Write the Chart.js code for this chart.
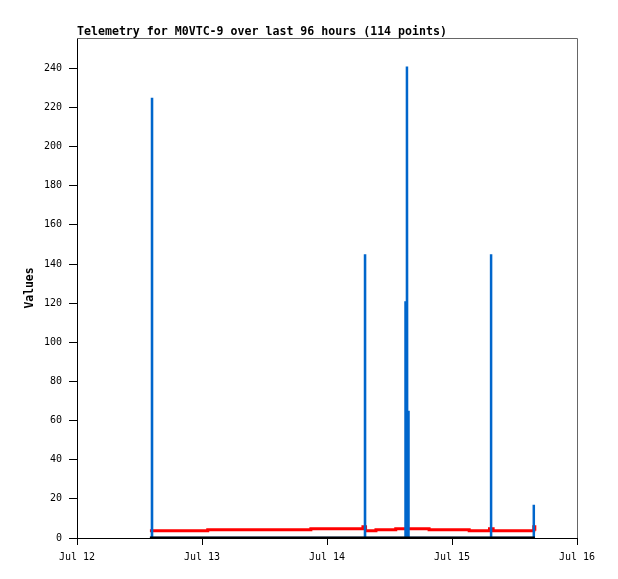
<!DOCTYPE html>
<html><head><meta charset="utf-8">
<style>html,body{margin:0;padding:0;background:#fff}#wrap{width:618px;height:579px}</style>
<script src="https://cdn.jsdelivr.net/npm/chart.js@4.4.0/dist/chart.umd.min.js"></script>
</head><body><div id="wrap"><canvas id="c" width="618" height="579"></canvas></div>
<script>
const titleText = 'Telemetry for M0VTC-9 over last 96 hours (114 points)';
const yAxisTitle = 'Values';
// x is hours since Jul 12 00:00
const xTickHours = [0, 24, 48, 72, 96];
const xTickLabels = ['Jul 12', 'Jul 13', 'Jul 14', 'Jul 15', 'Jul 16'];
const yTickValues = [0, 20, 40, 60, 80, 100, 120, 140, 160, 180, 200, 220, 240];
const yMax = 255.5;

const blueHours  = [14.0, 14.39, 14.4, 14.41, 55.29, 55.3, 55.31, 63.0, 63.05, 63.1, 63.3, 63.35, 63.4, 63.55, 63.6, 63.65, 79.49, 79.5, 79.51, 87.69, 87.7, 87.71, 87.9];
const blueValues = [0,    0,     225,  0,     0,     145,  0,     0,    121,   0,    0,    241,   0,    0,     65,   0,     0,     145,  0,     0,     17,   0,     0];

const redHours  = [14.0, 18.0, 22.0, 25.1, 30.0, 35.0, 40.0, 44.9, 50.0, 54.6, 54.9, 55.4, 57.4, 61.2, 64.0, 67.6, 72.0, 75.3, 79.2, 79.9, 84.0, 87.4, 87.7, 87.9];
const redValues = [3.7,  3.7,  3.7,  4.2,  4.2,  4.2,  4.2,  4.7,  4.7,  4.7,  5.8,  3.7,  4.2,  4.7,  4.7,  4.2,  4.2,  3.7,  4.7,  3.7,  3.7,  3.7,  5.8,  3.7];

const blackHours  = [14.0, 87.9];
const blackValues = [0, 0];

const MONO = '"DejaVu Sans Mono", "Liberation Mono", monospace';
const toPts = (xs, ys) => xs.map((x, i) => ({x: x, y: ys[i]}));

const framePlugin = {
  id: 'frame',
  beforeDatasetsDraw(chart) {
    const {ctx, chartArea: a} = chart;
    ctx.save();
    ctx.strokeStyle = '#666666';
    ctx.lineWidth = 1;
    ctx.beginPath();
    ctx.moveTo(a.left, a.top + 0.5);
    ctx.lineTo(a.right + 0.5, a.top + 0.5);
    ctx.lineTo(a.right + 0.5, a.bottom);
    ctx.stroke();
    ctx.restore();
  },
  afterDraw(chart) {
    const {ctx, chartArea: a} = chart;
    ctx.save();
    ctx.fillStyle = '#000';
    ctx.font = 'bold 11.6px ' + MONO;
    ctx.textBaseline = 'alphabetic';
    ctx.textAlign = 'left';
    ctx.fillText(titleText, a.left, 35);
    ctx.restore();
  }
};

new Chart(document.getElementById('c'), {
  type: 'line',
  data: {
    datasets: [
      {label: 'zero', data: toPts(blackHours, blackValues), borderColor: '#000000', borderWidth: 3, pointRadius: 0, order: 0},
      {label: 'blue', data: toPts(blueHours, blueValues), borderColor: '#0066CC', borderWidth: 2.5, pointRadius: 0, order: 1, tension: 0},
      {label: 'red', data: toPts(redHours, redValues), borderColor: '#FF0000', borderWidth: 3, pointRadius: 0, order: 2, stepped: 'before'}
    ]
  },
  options: {
    responsive: false,
    animation: false,
    events: [],
    layout: {padding: {left: 0, right: 41, top: 38, bottom: 0}},
    plugins: {legend: {display: false}, tooltip: {enabled: false}, title: {display: false}},
    scales: {
      x: {
        type: 'linear', min: 0, max: 96,
        afterBuildTicks(s) { s.ticks = xTickHours.map(v => ({value: v})); },
        afterFit(s) { s.height = 41; },
        ticks: {
          autoSkip: false, maxRotation: 0, padding: 6, color: '#000',
          font: {family: MONO, size: 10},
          callback(v) { const i = xTickHours.indexOf(v); return i >= 0 ? xTickLabels[i] : ''; }
        },
        grid: {drawOnChartArea: false, tickLength: 7, color: '#000', tickColor: '#000'},
        border: {display: true, color: '#000', width: 1}
      },
      y: {
        type: 'linear', min: 0, max: yMax,
        afterBuildTicks(s) { s.ticks = yTickValues.map(v => ({value: v})); },
        afterFit(s) { s.width = 77; },
        ticks: {padding: 7, color: '#000', font: {family: MONO, size: 10}},
        grid: {drawOnChartArea: false, tickLength: 8, color: '#000', tickColor: '#000'},
        border: {display: true, color: '#000', width: 1},
        title: {display: true, text: yAxisTitle, color: '#000', font: {family: MONO, size: 11.4, weight: 'bold'}, padding: {top: 23.7, bottom: 0}}
      }
    }
  },
  plugins: [framePlugin]
});
</script></body></html>
